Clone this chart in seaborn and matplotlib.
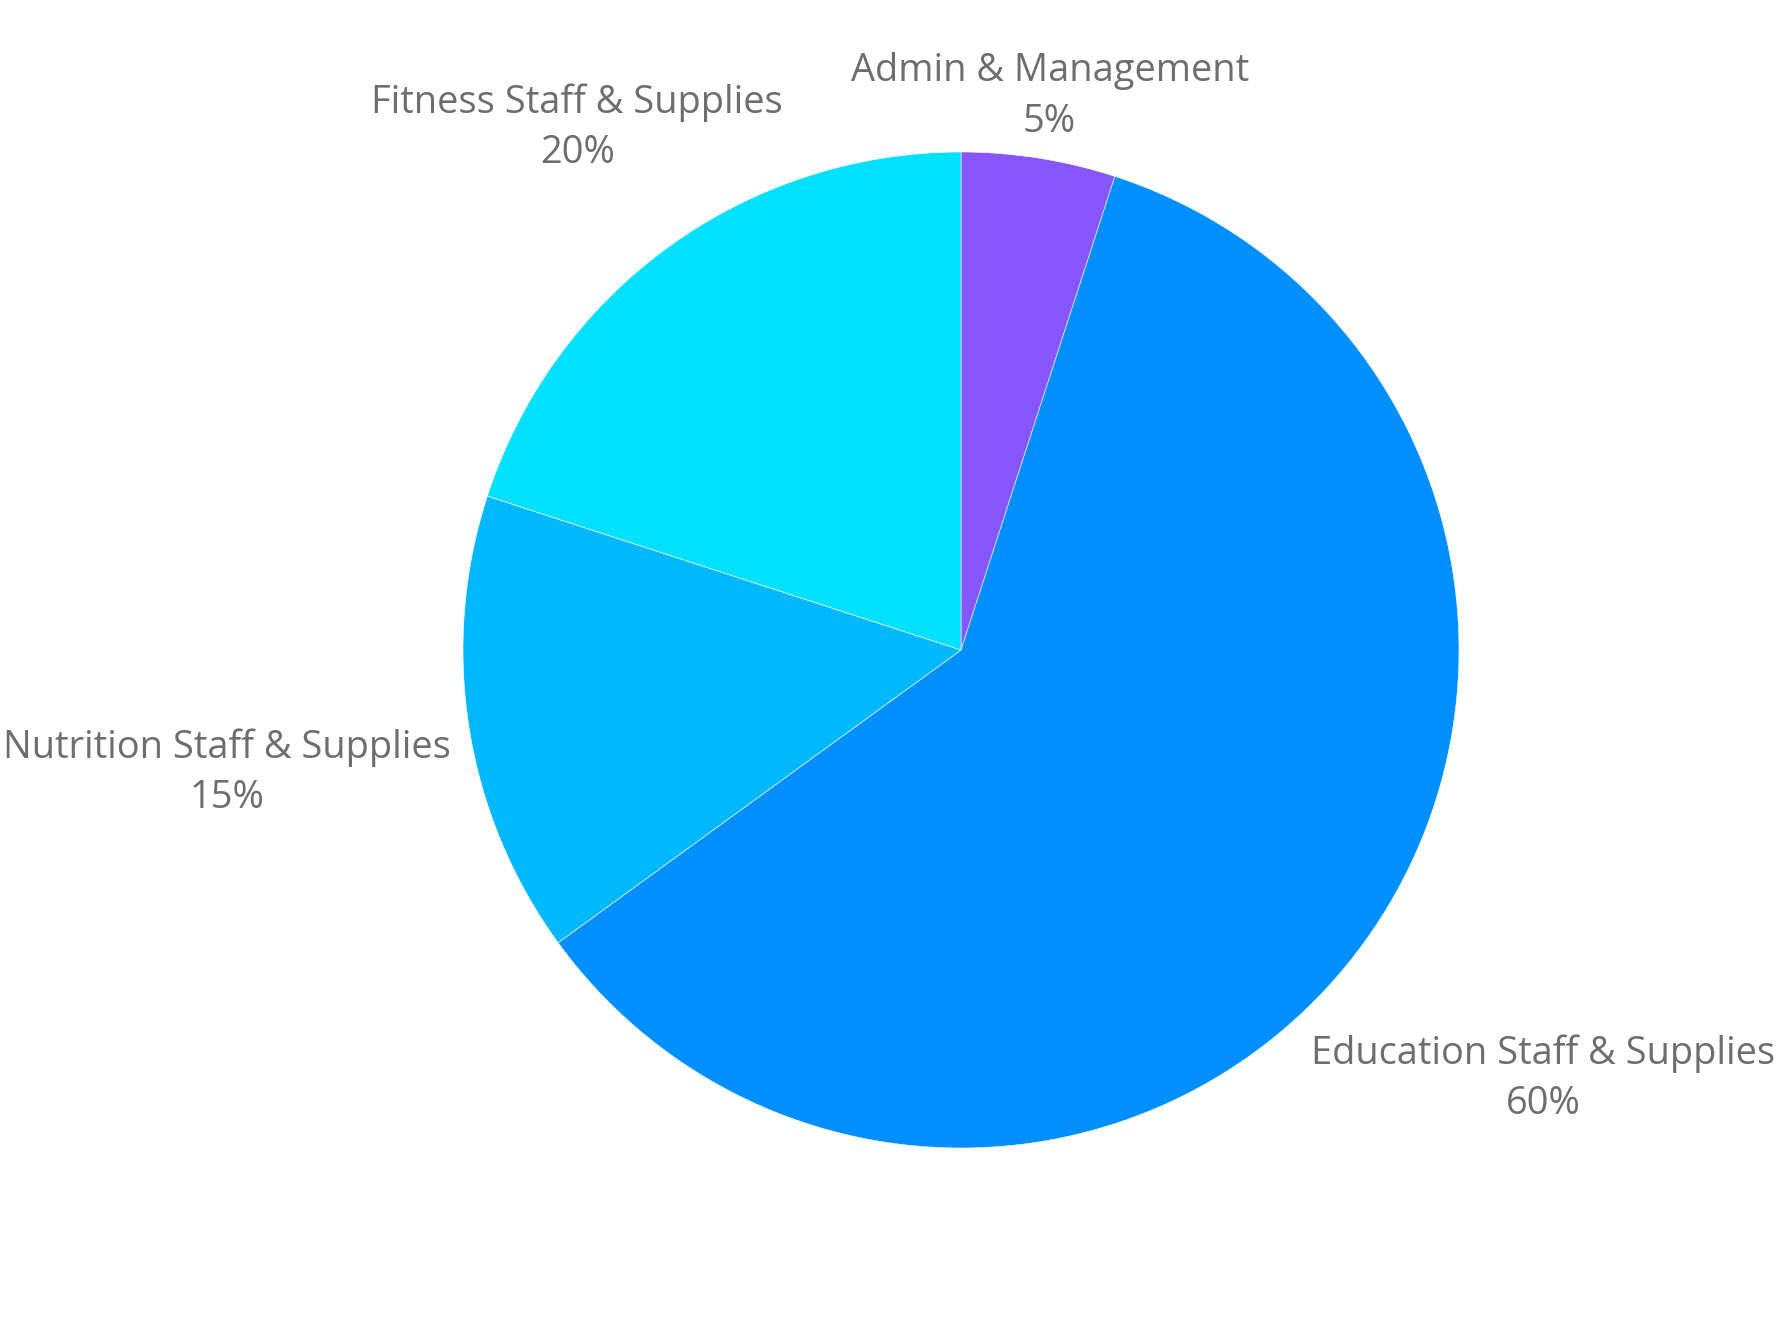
import numpy as np
import matplotlib
matplotlib.use("Agg")
import matplotlib.pyplot as plt
import seaborn as sns

categories = ["Admin & Management", "Education Staff & Supplies",
              "Nutrition Staff & Supplies", "Fitness Staff & Supplies"]
values = [5, 60, 15, 20]
colors = ["#8856FF", "#008FFF", "#00B8FF", "#00E1FF"]

sns.set_theme(style="white")
plt.rcParams["font.family"] = ["Open Sans", "DejaVu Sans"]

W, H, DPI = 1792, 1344, 100
fig = plt.figure(figsize=(W / DPI, H / DPI), dpi=DPI)
ax = fig.add_axes([0, 0, 1, 1])
cx, cy, R = 961, 650, 498

wedges, _ = ax.pie(values, colors=colors, startangle=90, counterclock=False,
                   radius=1.0, center=(0, 0), frame=True,
                   wedgeprops=dict(linewidth=0.4, edgecolor="white"))
ax.set_xlim(-cx / R, (W - cx) / R)
ax.set_ylim(-(H - cy) / R, cy / R)
ax.axis("off")

total = sum(values)
fig.canvas.draw()
renderer = fig.canvas.get_renderer()
gap = 1.035
shift = 6.0 / R
cum = 0
for cat, v in zip(categories, values):
    mid = 90 - (cum + v / 2) / total * 360
    cum += v
    th = np.deg2rad(mid)
    ux, uy = np.cos(th), np.sin(th)
    t = ax.text(0, 0, f"{cat}\n{v}%", ha="center", va="center",
                multialignment="center", fontsize=27.4, color="#6E6E6E",
                linespacing=1.42)
    bb = t.get_window_extent(renderer)
    hw = bb.width / 2 / R
    hh = bb.height / 2 / R

    def dist(r):
        x0, y0 = r * ux, r * uy
        dx = max(abs(x0) - hw, 0)
        dy = max(abs(y0) - hh, 0)
        return np.hypot(dx, dy)

    lo, hi = 0.5, 3.0
    for _ in range(60):
        m = (lo + hi) / 2
        if dist(m) < gap:
            lo = m
        else:
            hi = m
    t.set_position((hi * ux, hi * uy - shift))

fig.savefig("out.png", dpi=DPI, facecolor="white")
